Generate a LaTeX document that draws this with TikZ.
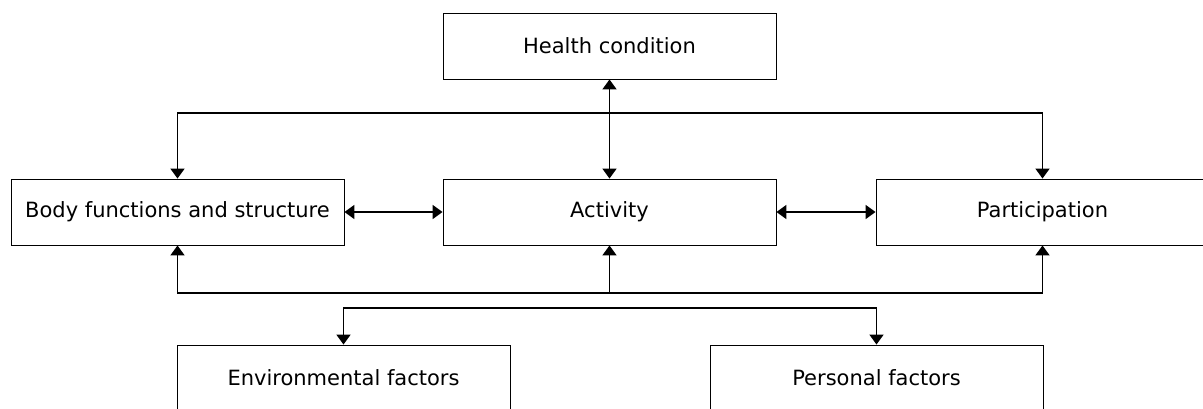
\documentclass[tikz,border=0pt]{standalone}
\usepackage{fontspec}
\setmainfont{DejaVu Sans}
\usetikzlibrary{arrows.meta}
\usetikzlibrary{positioning}
\usetikzlibrary{calc}

\tikzset{
  box/.style = {draw, line width=0.9pt, minimum width=333pt, minimum height=66pt,
                inner sep=0pt, font=\fontsize{21}{25}\selectfont},
  link/.style = {line width=1.8pt, {Triangle[width=14pt,length=10pt]}-{Triangle[width=14pt,length=10pt]}},
  onelink/.style = {line width=1.8pt, -{Triangle[width=14pt,length=10pt]}}
}

\begin{document}
\begin{tikzpicture}[x=1pt,y=1pt]

        % frame of the picture
        \clip (0,0) rectangle (1203,-408);

        % the boxes
        \node[box] (health) at (609.5,-46) {Health condition};
        \node[box] (body) at (177.5,-212) {Body functions and structure};
        \node[box] (activity) at (609.5,-212) {Activity};
        \node[box] (part) at (1042.5,-212) {Participation};
        \node[box] (env) at (343.5,-378) {Environmental factors};
        \node[box] (pers) at (876.5,-378) {Personal factors};

        % heights of the bars
        \coordinate (topbar) at (0,-113);
        \coordinate (botbar) at (0,-293);
        \coordinate (lowbar) at (0,-308);

        % links
        \draw[link] (health) -- (activity);
        \draw[link] (body) -- (activity);
        \draw[link] (activity) -- (part);
        \draw[link] (body.north) -- (body.north |- topbar) -- (part.north |- topbar) -- (part.north);
        \draw[link] (body.south) -- (body.south |- botbar) -- (part.south |- botbar) -- (part.south);
        \draw[onelink] (activity.south |- botbar) -- (activity.south);
        \draw[link] (env.north) -- (env.north |- lowbar) -- (pers.north |- lowbar) -- (pers.north);

      \end{tikzpicture}
\end{document}
